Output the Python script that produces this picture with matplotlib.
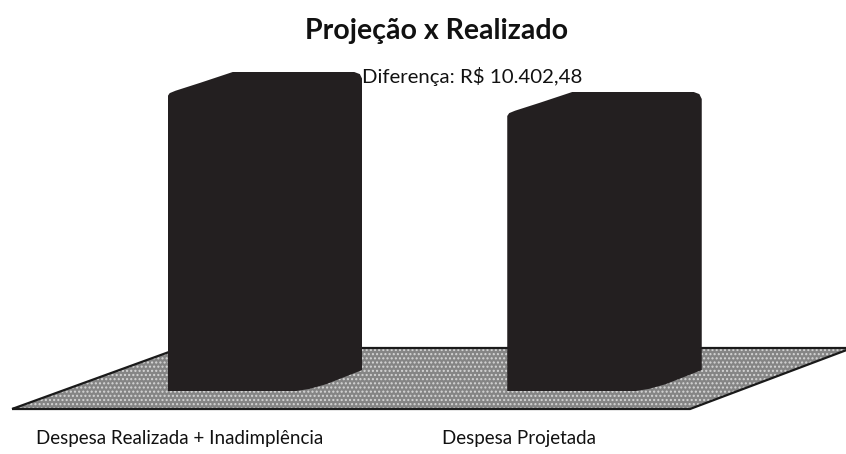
import numpy as np
import matplotlib
matplotlib.use("Agg")
import matplotlib.pyplot as plt
from matplotlib.patches import Polygon
from matplotlib.transforms import ScaledTranslation

# ── Data ──────────────────────────────────────────────────────────────────────

categories = ["Despesa Realizada + Inadimplência", "Despesa Projetada"]
values = [166000.00, 155597.52]
diff_label = "Diferença: R$ 10.402,48"
title = "Projeção x Realizado"

BAR_COLOR = "#231f20"
FONT = ["Lato", "DejaVu Sans"]

# ── Figure ────────────────────────────────────────────────────────────────────

W, H = 846, 454
fig = plt.figure(figsize=(W / 100, H / 100), dpi=100)
ax_h = 415  # px of the axes (from top of figure)
ax = fig.add_axes([0, (H - ax_h) / H, 1, ax_h / H])

px_per_unit = 339.5
xmin = -265 / px_per_unit
xmax = (W - 265) / px_per_unit
units_per_px = values[0] / 319
ax.set_xlim(xmin, xmax)
ax.set_ylim(-(ax_h - 391) * units_per_px, 391 * units_per_px)

# floor (decoration, axes fraction)
def fx(px):
    return px / W

def fy(py):
    return (ax_h - py) / ax_h

floor = [(fx(12), fy(409)), (fx(690), fy(409)), (fx(852), fy(348)), (fx(180), fy(348))]
ax.add_patch(Polygon(floor, closed=True, transform=ax.transAxes,
                     facecolor="#858585", edgecolor="#d6d6d6", hatch="....",
                     linewidth=0, zorder=1))
ax.add_patch(Polygon(floor, closed=True, transform=ax.transAxes,
                     facecolor="none", edgecolor="#1a1a1a", linewidth=1.6, zorder=1.5))

# bars
x = np.arange(len(categories))
bars = ax.bar(x, values, width=194.5 / px_per_unit, color=BAR_COLOR, zorder=2)

for b in bars:
    l, r = b.get_x(), b.get_x() + b.get_width()
    bot, top = 0, b.get_height()
    # top-left chamfer (cylinder top in perspective)
    tx, ty = 65 / px_per_unit, 24 * units_per_px
    top_cut = [(l + tx, top), (l + 0.5 * tx, top - 0.45 * ty),
               (l + 0.12 * tx, top - 0.78 * ty), (l + 0.03 * tx, top - 0.88 * ty),
               (l, top - ty)]
    # small rounding at top-right
    rx, ry = 8 / px_per_unit, 7 * units_per_px
    top_right = [(r, top - ry), (r - 0.3 * rx, top - 0.3 * ry), (r - rx, top)]
    # bottom-right chamfer
    bx, by = 66 / px_per_unit, 21 * units_per_px
    bot_cut = [(r - bx, bot), (r - 0.8 * bx, bot + 0.1 * by),
               (r - 0.55 * bx, bot + 0.32 * by), (r - 0.08 * bx, bot + 0.9 * by),
               (r, bot + by)]
    pts = [(l, bot)] + bot_cut + top_right + top_cut
    clip = Polygon(pts, closed=True, transform=ax.transData)
    b.set_clip_path(clip)

# axes cosmetics
for s in ax.spines.values():
    s.set_visible(False)
ax.set_yticks([])
ax.set_xticks(x)
ax.set_xticklabels(categories, fontsize=13.5, family=FONT, color="#111111")
ax.tick_params(axis="x", length=0, pad=11)
for lbl in ax.get_xticklabels():
    lbl.set_transform(lbl.get_transform() + ScaledTranslation(-0.855, 0, fig.dpi_scale_trans))

# texts
fig.text(437 / W, 1 - 31 / H, title, ha="center", va="center",
         fontsize=20.5, fontweight="bold", family=FONT, color="#111111")
fig.text(362 / W, 1 - 77 / H, diff_label, ha="left", va="center",
         fontsize=14.7, family=FONT, color="#111111")

fig.savefig("out.png", dpi=100, facecolor="white")
